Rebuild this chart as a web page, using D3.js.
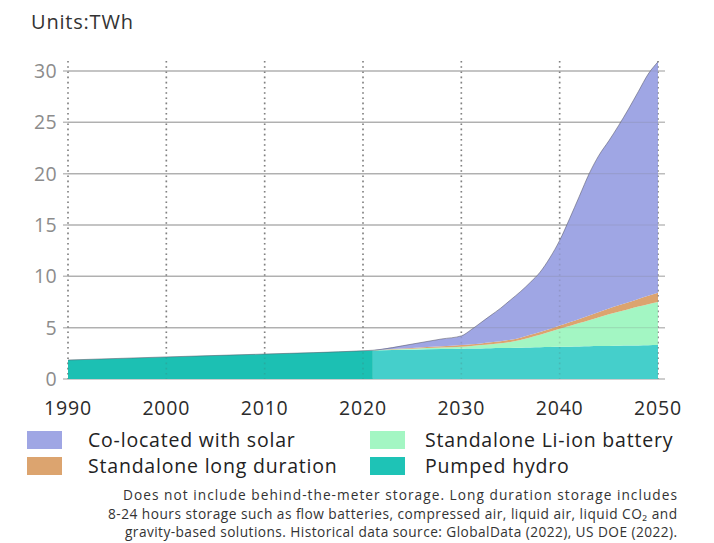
<!DOCTYPE html>
<html>
<head>
<meta charset="utf-8">
<script src="https://cdn.jsdelivr.net/npm/d3@7"></script>
<style>
  html, body { margin: 0; padding: 0; background: #fff; }
  svg { display: block; font-family: "Open Sans", Lato, sans-serif; }
</style>
</head>
<body>
<svg id="chart" width="714" height="543"></svg>
<script>
// Storage capacity by technology, TWh
const years        = [1990, 2000, 2010, 2020, 2021, 2025, 2028, 2030, 2031, 2032, 2033, 2034, 2035, 2036, 2037, 2038, 2039, 2040, 2041, 2042, 2043, 2044, 2045, 2046, 2047, 2048, 2049, 2050];
const pumpedHydro  = [1.85, 2.15, 2.43, 2.75, 2.78, 2.85, 2.91, 2.94, 2.96, 2.98, 3.00, 3.02, 3.03, 3.05, 3.07, 3.09, 3.11, 3.13, 3.15, 3.17, 3.19, 3.21, 3.22, 3.24, 3.26, 3.27, 3.28, 3.30];
const liIon        = [0, 0, 0, 0, 0.01, 0.10, 0.16, 0.21, 0.26, 0.32, 0.38, 0.46, 0.57, 0.75, 0.98, 1.21, 1.49, 1.77, 2.02, 2.28, 2.54, 2.81, 3.08, 3.31, 3.54, 3.78, 4.00, 4.20];
const longDuration = [0, 0, 0, 0, 0.01, 0.07, 0.11, 0.15, 0.16, 0.17, 0.19, 0.20, 0.22, 0.23, 0.25, 0.27, 0.28, 0.30, 0.35, 0.40, 0.45, 0.50, 0.57, 0.63, 0.68, 0.75, 0.82, 0.90];
const solar        = [0, 0, 0, 0, 0, 0.38, 0.72, 0.90, 1.42, 2.03, 2.63, 3.22, 3.88, 4.47, 5.10, 5.83, 6.92, 8.30, 10.08, 11.95, 13.82, 15.28, 16.33, 17.52, 18.82, 20.20, 21.60, 22.50];
const lastHistoricalYear = 2021;

const xTicks = [1990, 2000, 2010, 2020, 2030, 2040, 2050];
const yTicks = [0, 5, 10, 15, 20, 25, 30];

const seriesKeys   = ["hydro", "liIon", "longDuration", "solar"];
const seriesColors = { hydro: "#45cfcb", liIon: "#a3f6c3", longDuration: "#dca46f", solar: "#9fa6e4" };
const historicalColor = "#1cc0b3";

const legendItems = [
  { label: "Co-located with solar",     color: "#9fa6e4", col: 0, row: 0 },
  { label: "Standalone long duration",  color: "#dca46f", col: 0, row: 1 },
  { label: "Standalone Li-ion battery", color: "#a3f6c3", col: 1, row: 0 },
  { label: "Pumped hydro",              color: "#1ec3b6", col: 1, row: 1 }
];

const noteLines = [
  "Does not include behind-the-meter storage. Long duration storage includes",
  "8-24 hours storage such as flow batteries, compressed air, liquid air, liquid CO\u2082 and",
  "gravity-based solutions. Historical data source: GlobalData (2022), US DOE (2022)."
];
const noteStarts = [123, 108, 125];

const rows = years.map((yr, i) => ({
  year: yr, hydro: pumpedHydro[i], liIon: liIon[i], longDuration: longDuration[i], solar: solar[i]
}));

const svg = d3.select("#chart");
const x = d3.scaleLinear().domain([1990, 2050]).range([68, 658]);
const y = d3.scaleLinear().domain([0, 30]).range([379, 71]);

// Units label
svg.append("text").attr("x", 31).attr("y", 29)
  .attr("font-size", 20).attr("letter-spacing", 0.8).attr("fill", "#333").text("Units:TWh");

// Horizontal gridlines with left ticks
const grid = svg.append("g");
grid.selectAll("line.h").data(yTicks).join("line")
  .attr("x1", 63).attr("x2", 665)
  .attr("y1", d => y(d)).attr("y2", d => y(d))
  .attr("stroke", "#bdbdbd").attr("stroke-width", 1.5);

// Vertical dotted lines at each decade
grid.selectAll("line.v").data(xTicks).join("line")
  .attr("x1", d => x(d)).attr("x2", d => x(d))
  .attr("y1", 61).attr("y2", 379)
  .attr("stroke", "#8a8a8a").attr("stroke-width", 1.6)
  .attr("stroke-dasharray", "1.6,3.6");

// Stacked areas
const stacked = d3.stack().keys(seriesKeys)(rows);
const curve = d3.curveMonotoneX;
const area = d3.area()
  .x(d => x(d.data.year))
  .y0(d => y(d[0]))
  .y1(d => y(d[1]))
  .curve(curve);

const areas = svg.append("g");
stacked.forEach(layer => {
  const proj = layer.filter(d => d.data.year >= lastHistoricalYear);
  areas.append("path").datum(proj)
    .attr("d", area)
    .attr("fill", seriesColors[layer.key]);
});

// Historical period, pumped hydro only
const hist = stacked[0].filter(d => d.data.year <= lastHistoricalYear);
areas.append("path").datum(hist).attr("d", area).attr("fill", historicalColor);

// Top edge of the total
const totalLayer = stacked[stacked.length - 1];
areas.append("path").datum(totalLayer)
  .attr("d", d3.line().x(d => x(d.data.year)).y(d => y(d[1])).curve(curve))
  .attr("fill", "none").attr("stroke", "#5a5a6a").attr("stroke-width", 0.8).attr("stroke-opacity", 0.7);

// Faint grid showing through the areas
const overlay = svg.append("g").attr("opacity", 0.18);
overlay.selectAll("line.h").data(yTicks.filter(d => d > 0)).join("line")
  .attr("x1", 68).attr("x2", 658)
  .attr("y1", d => y(d)).attr("y2", d => y(d))
  .attr("stroke", "#777").attr("stroke-width", 1.2);
overlay.selectAll("line.v").data(xTicks).join("line")
  .attr("x1", d => x(d)).attr("x2", d => x(d))
  .attr("y1", 61).attr("y2", 379)
  .attr("stroke", "#555").attr("stroke-width", 1.6)
  .attr("stroke-dasharray", "1.6,3.6");

// Y axis labels
svg.append("g").selectAll("text").data(yTicks).join("text")
  .attr("x", 57).attr("y", d => y(d) + 7)
  .attr("text-anchor", "end").attr("font-size", 19.5).attr("letter-spacing", 0.4)
  .attr("fill", "#8c8c8c")
  .text(d => d);

// X axis labels
svg.append("g").selectAll("text").data(xTicks).join("text")
  .attr("x", d => x(d)).attr("y", 415)
  .attr("text-anchor", "middle").attr("font-size", 19.5).attr("letter-spacing", 0.8)
  .attr("fill", "#2b2b2b")
  .text(d => d);

// Legend
const legend = svg.append("g");
const colX = [27, 370], rowY = [431, 457];
legendItems.forEach(it => {
  legend.append("rect")
    .attr("x", colX[it.col]).attr("y", rowY[it.row])
    .attr("width", 35).attr("height", 18).attr("fill", it.color);
  legend.append("text")
    .attr("x", colX[it.col] + (it.col === 0 ? 61 : 55)).attr("y", rowY[it.row] + 16)
    .attr("font-size", 19.5).attr("letter-spacing", 0.8)
    .attr("fill", "#222").text(it.label);
});

// Footnote, each line stretched to the right margin
svg.append("g").selectAll("text").data(noteLines).join("text")
  .attr("x", (d, i) => noteStarts[i]).attr("y", (d, i) => 500 + i * 18.5)
  .attr("textLength", (d, i) => 677 - noteStarts[i]).attr("lengthAdjust", "spacing")
  .attr("font-size", 13.7).attr("fill", "#333")
  .text(d => d);
</script>
</body>
</html>
